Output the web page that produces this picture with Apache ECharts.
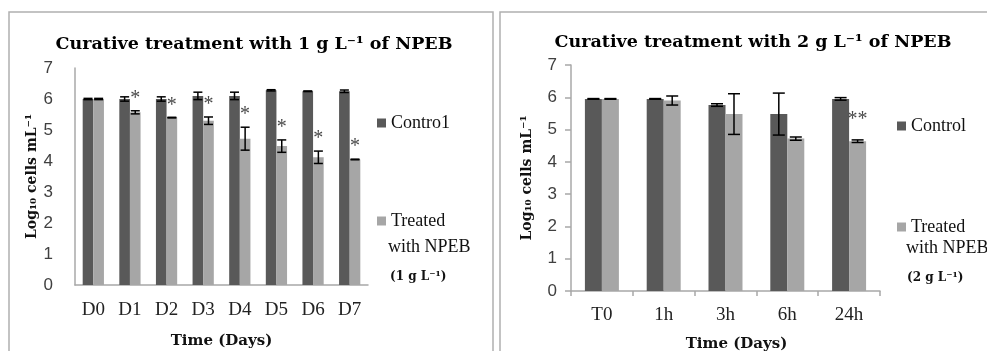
<!DOCTYPE html>
<html>
<head>
<meta charset="utf-8">
<script src="https://cdn.jsdelivr.net/npm/echarts@6/dist/echarts.min.js"></script>
<style>
html, body { margin: 0; background: #fff; }
#chart { width: 987px; height: 351px; }
</style>
</head>
<body>
<div id="chart"></div>
<script>
// left panel: 1 g/L, days
const daysLeft = ['D0', 'D1', 'D2', 'D3', 'D4', 'D5', 'D6', 'D7'];
const controlLeft = [6.0, 6.0, 6.0, 6.1, 6.1, 6.28, 6.25, 6.25];
const controlLeftErr = [0.02, 0.07, 0.07, 0.12, 0.12, 0.02, 0.01, 0.04];
const treatedLeft = [6.0, 5.57, 5.4, 5.3, 4.72, 4.48, 4.12, 4.05];
const treatedLeftErr = [0.02, 0.05, 0.01, 0.12, 0.37, 0.2, 0.2, 0.01];
const sigLeft = ['', '*', '*', '*', '*', '*', '*', '*'];

// right panel: 2 g/L, hours
const hoursRight = ['T0', '1h', '3h', '6h', '24h'];
const controlRight = [5.95, 5.95, 5.76, 5.48, 5.95];
const controlRightErr = [0.01, 0.01, 0.04, 0.65, 0.04];
const treatedRight = [5.95, 5.9, 5.48, 4.72, 4.64];
const treatedRightErr = [0.01, 0.14, 0.63, 0.05, 0.04];
const sigRight = ['', '', '', '', '**'];

const yTicks = [0, 1, 2, 3, 4, 5, 6, 7];

const DARK = '#595959', LIGHT = '#a6a6a6', AXIS = '#a8a8a8';
const SERIF = 'Liberation Serif', BOLD = 'DejaVu Serif', SANS = 'Liberation Sans';

// bar width as a share of the category band, per panel
const fracLeft = 0.29, fracRight = 0.275;

function errorBars(idx, vals, errs, side, frac, cap) {
    return {
        type: 'custom', xAxisIndex: idx, yAxisIndex: idx, z: 5, silent: true,
        data: vals.map((v, i) => [i, v - errs[i], v + errs[i]]),
        renderItem(params, api) {
            const band = api.size([1, 0])[0]
            const off = side * band * frac / 2
            const lo = api.coord([api.value(0), api.value(1)])
            const hi = api.coord([api.value(0), api.value(2)])
            const x = lo[0] + off
            const style = { stroke: '#000', lineWidth: 1.5 }
            return { type: 'group', children: [
                { type: 'line', shape: { x1: x, y1: lo[1], x2: x, y2: hi[1] }, style },
                { type: 'line', shape: { x1: x - cap, y1: lo[1], x2: x + cap, y2: lo[1] }, style },
                { type: 'line', shape: { x1: x - cap, y1: hi[1], x2: x + cap, y2: hi[1] }, style }
            ] }
        }
    }
}

function stars(idx, vals, errs, marks, frac, gap) {
    return {
        type: 'custom', xAxisIndex: idx, yAxisIndex: idx, z: 6, silent: true,
        data: vals.map((v, i) => [i, v + errs[i]]),
        renderItem(params, api) {
            const band = api.size([1, 0])[0]
            const p = api.coord([api.value(0), api.value(1)])
            const mark = marks[params.dataIndex]
            if (!mark) return null
            return { type: 'text', x: p[0] + band * frac / 2, y: p[1] - gap,
                style: { text: mark, fill: '#4a4a4a', font: '20px ' + SERIF, textAlign: 'center', textVerticalAlign: 'middle' } }
        }
    }
}

function catAxis(idx, cats, showTicks) {
    return {
        type: 'category', gridIndex: idx, data: cats,
        name: 'Time (Days)', nameLocation: 'middle', nameGap: idx ? 46 : 49,
        nameTextStyle: { fontFamily: BOLD, fontWeight: 'bold', fontSize: 15, color: '#111', padding: idx ? [0, 0, 0, 22] : 0 },
        axisLine: { lineStyle: { color: AXIS, width: 1.5 } },
        axisTick: { show: showTicks, length: 5, lineStyle: { color: AXIS, width: 1.5 } },
        axisLabel: { fontFamily: SERIF, fontSize: 19, color: '#222', margin: idx ? 15 : 16 },
        splitLine: { show: false }
    }
}

function valAxis(idx, showTicks, margin) {
    return {
        type: 'value', gridIndex: idx, min: yTicks[0], max: yTicks[yTicks.length - 1], interval: 1,
        name: 'Log\u2081\u2080 cells mL\u207B\u00B9', nameLocation: 'middle', nameGap: idx ? 37 : 35,
        nameTextStyle: { fontFamily: BOLD, fontWeight: 'bold', fontSize: 14, color: '#111' },
        axisLine: { show: true, lineStyle: { color: AXIS, width: 1.5 } },
        axisTick: { show: showTicks, length: 6, lineStyle: { color: AXIS, width: 1.5 } },
        axisLabel: { fontFamily: SANS, fontSize: 17, color: '#404040', margin: margin },
        splitLine: { show: false }
    }
}

function bar(name, idx, data, color, frac) {
    return {
        name: name, type: 'bar', xAxisIndex: idx, yAxisIndex: idx, data: data,
        barWidth: (frac * 100) + '%', barGap: '0%', itemStyle: { color: color }, silent: true
    }
}

const legendText = { fontFamily: SERIF, fontSize: 18, color: '#111' }
const legendMap = { 'Contro1': 'Contro1', 'Control': 'Control', 'Treated 1': 'Treated', 'Treated 2': 'Treated' }

const option = {
    backgroundColor: '#fff',
    animation: false,
    title: [
        { text: 'Curative treatment with 1 g L\u207B\u00B9 of NPEB', left: 249, top: 30, textAlign: 'center',
          textStyle: { fontFamily: BOLD, fontWeight: 'bold', fontSize: 17.5, color: '#000' } },
        { text: 'Curative treatment with 2 g L\u207B\u00B9 of NPEB', left: 748, top: 28, textAlign: 'center',
          textStyle: { fontFamily: BOLD, fontWeight: 'bold', fontSize: 17.5, color: '#000' } }
    ],
    legend: [
        { data: ['Contro1', 'Treated 1'], orient: 'vertical', left: 372, top: 109, itemGap: 80,
          icon: 'rect', itemWidth: 9, itemHeight: 9, textStyle: legendText, formatter: n => legendMap[n], selectedMode: false },
        { data: ['Control', 'Treated 2'], orient: 'vertical', left: 892, top: 112, itemGap: 83,
          icon: 'rect', itemWidth: 9, itemHeight: 9, textStyle: legendText, formatter: n => legendMap[n], selectedMode: false }
    ],
    grid: [
        { left: 75, top: 68, width: 293, height: 217, outerBoundsMode: 'none' },
        { left: 571, top: 65, width: 309, height: 226, outerBoundsMode: 'none' }
    ],
    xAxis: [catAxis(0, daysLeft, false), catAxis(1, hoursRight, true)],
    yAxis: [valAxis(0, false, 22), valAxis(1, true, 14)],
    series: [
        bar('Contro1', 0, controlLeft, DARK, fracLeft),
        bar('Treated 1', 0, treatedLeft, LIGHT, fracLeft),
        errorBars(0, controlLeft, controlLeftErr, -1, fracLeft, 4.5),
        errorBars(0, treatedLeft, treatedLeftErr, 1, fracLeft, 4.5),
        stars(0, treatedLeft, treatedLeftErr, sigLeft, fracLeft, 12),
        bar('Control', 1, controlRight, DARK, fracRight),
        bar('Treated 2', 1, treatedRight, LIGHT, fracRight),
        errorBars(1, controlRight, controlRightErr, -1, fracRight, 6),
        errorBars(1, treatedRight, treatedRightErr, 1, fracRight, 6),
        stars(1, treatedRight, treatedRightErr, sigRight, fracRight, 20)
    ],
    graphic: [
        { type: 'rect', shape: { x: 9, y: 12, width: 484, height: 360 }, style: { fill: 'none', stroke: '#b0b0b0', lineWidth: 1.5 }, silent: true },
        { type: 'rect', shape: { x: 500, y: 12, width: 520, height: 360 }, style: { fill: 'none', stroke: '#b0b0b0', lineWidth: 1.5 }, silent: true },
        { type: 'text', x: 388, y: 247, style: { text: 'with NPEB', font: '18px ' + SERIF, fill: '#111', textVerticalAlign: 'middle' } },
        { type: 'text', x: 390, y: 277, style: { text: '(1 g L\u207B\u00B9)', font: 'bold 12px ' + BOLD, fill: '#111', textVerticalAlign: 'middle' } },
        { type: 'text', x: 906, y: 248, style: { text: 'with NPEB', font: '18px ' + SERIF, fill: '#111', textVerticalAlign: 'middle' } },
        { type: 'text', x: 907, y: 278, style: { text: '(2 g L\u207B\u00B9)', font: 'bold 12px ' + BOLD, fill: '#111', textVerticalAlign: 'middle' } }
    ]
}

const myChart = echarts.init(document.getElementById('chart'))
myChart.setOption(option)
</script>
</body>
</html>
